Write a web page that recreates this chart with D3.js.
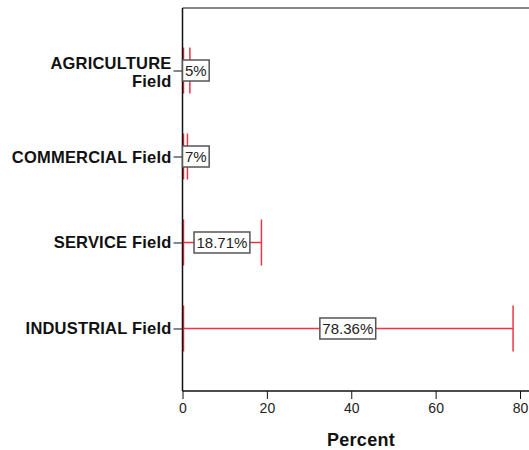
<!DOCTYPE html>
<html><head><meta charset="utf-8">
<script src="https://cdn.jsdelivr.net/npm/d3@7"></script>
<style>body{margin:0;background:#fff}svg{display:block}</style>
</head><body>
<svg id="c" width="529" height="450"></svg>
<script>
(function(){
const categories = ["AGRICULTURE Field", "COMMERCIAL Field", "SERVICE Field", "INDUSTRIAL Field"];
const values = [1.75, 1.17, 18.71, 78.36];
const valueLabels = ["5%", "7%", "18.71%", "78.36%"];
const xTicks = [0, 20, 40, 60, 80];
const xTitle = "Percent";

const svg = d3.select("#c");
const pLeft = 182.5, pTop = 8, pBottom = 391, pRight = 529;
const x = d3.scaleLinear().domain([0, 80]).range([pLeft, 520]);
const y = d3.scalePoint().domain(categories).range([pTop, pBottom]).padding(0.727);
const red = "#ee3344";

svg.append("line").attr("x1", pLeft).attr("x2", pRight).attr("y1", pTop).attr("y2", pTop)
  .attr("stroke", "#888").attr("stroke-width", 2);

const xa = svg.append("g").attr("transform", `translate(0,${pBottom})`)
  .call(d3.axisBottom(x).tickValues(xTicks).tickSize(8).tickPadding(4).tickSizeOuter(0));
xa.select(".domain").attr("stroke", "#111").attr("stroke-width", 1.5).attr("d", `M${pLeft},0H${pRight}`);
xa.selectAll(".tick line").attr("stroke", "#111");
xa.selectAll("text").attr("font-family", "Liberation Sans, Arial, sans-serif").attr("font-size", 14).attr("fill", "#222");

svg.append("text").attr("x", 361).attr("y", 446).attr("text-anchor", "middle")
  .attr("font-family", "Liberation Sans, Arial, sans-serif").attr("font-weight", "bold")
  .attr("font-size", 18).attr("letter-spacing", 0.3).attr("fill", "#111").text(xTitle);

const g = svg.append("g");
categories.forEach((c, i) => {
  const cy = y(c), v = values[i];
  g.append("line").attr("x1", x(0)).attr("x2", x(v)).attr("y1", cy).attr("y2", cy)
    .attr("stroke", red).attr("stroke-width", 1.3);
  [0, v].forEach(t => {
    const xx = x(t) + (t === 0 ? 1 : 0);
    g.append("line").attr("x1", xx).attr("x2", xx)
      .attr("y1", cy - 23).attr("y2", cy + 23)
      .attr("stroke", red).attr("stroke-width", 1.5);
  });
});

const ya = svg.append("g").attr("transform", `translate(${pLeft},0)`)
  .call(d3.axisLeft(y).tickSize(9).tickPadding(2).tickSizeOuter(0));
ya.select(".domain").attr("stroke", "#111").attr("stroke-width", 1.5).attr("d", `M0,${pTop}V${pBottom}`);
ya.selectAll(".tick line").attr("stroke", "#111");
ya.selectAll("text").remove();
categories.forEach(c => {
  const cy = y(c);
  const t = svg.append("text").attr("text-anchor", "end")
    .attr("font-family", "Liberation Sans, Arial, sans-serif").attr("font-weight", "bold")
    .attr("font-size", 16.5).attr("letter-spacing", 0.2).attr("fill", "#111");
  const words = c.split(" ");
  if (c.length > 16) {
    t.append("tspan").attr("x", pLeft - 11).attr("y", cy - 2).text(words.slice(0, -1).join(" "));
    t.append("tspan").attr("x", pLeft - 11).attr("y", cy + 16.5).text(words[words.length - 1]);
  } else {
    t.attr("x", pLeft - 11).attr("y", cy + 6).text(c);
  }
});

categories.forEach((c, i) => {
  const cy = y(c), v = values[i];
  const lg = svg.append("g");
  const txt = lg.append("text").attr("text-anchor", "middle")
    .attr("font-family", "Liberation Sans, Arial, sans-serif").attr("font-size", 15)
    .attr("fill", "#222").text(valueLabels[i]);
  const w = txt.node().getComputedTextLength() + 5, h = 21;
  let cx = x(v / 2);
  if (cx - w / 2 < pLeft) cx = pLeft + w / 2;
  txt.attr("x", cx).attr("y", cy + 5.5);
  lg.insert("rect", "text").attr("x", cx - w / 2).attr("y", cy - h / 2).attr("width", w).attr("height", h)
    .attr("fill", "#fff").attr("stroke", "#555").attr("stroke-width", 1.5);
});
})();
</script>
</body></html>
